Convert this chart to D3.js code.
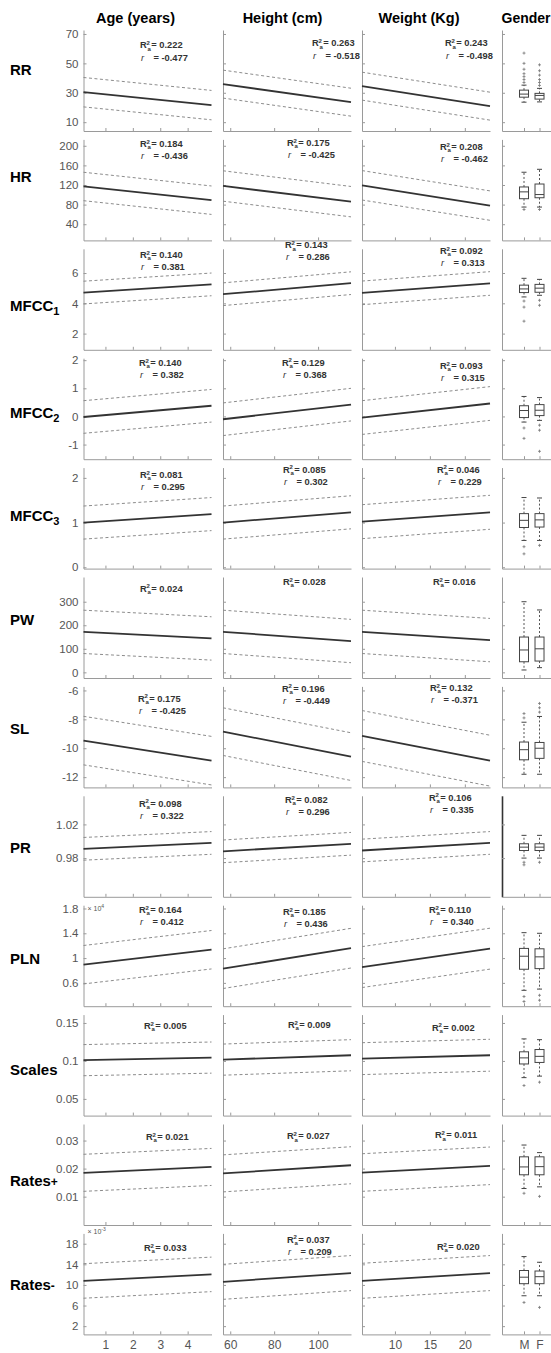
<!DOCTYPE html>
<html>
<head>
<meta charset="utf-8">
<script src="https://cdn.jsdelivr.net/npm/d3@7"></script>
<style>
  body { margin: 0; background: #fff; }
  svg text { font-family: "Liberation Sans", Arial, sans-serif; }
</style>
</head>
<body>
<div id="chart"></div>
<script>
// ---- data ----
const rowNames = ["RR", "HR", "MFCC", "MFCC", "MFCC", "PW", "SL", "PR", "PLN", "Scales", "Rates", "Rates"];
const rowSubs  = ["", "", "1", "2", "3", "", "", "", "", "", "+", "-"];
const colTitles = ["Age (years)", "Height (cm)", "Weight (Kg)", "Gender"];

const yDomains = [[4, 72.7], [7, 213], [0.93, 7.6], [-1.52, 2.07], [-0.03, 2.23], [-24, 405],
  [-12.71, -5.72], [0.934, 1.054], [0.224, 1.853], [0.028, 0.161], [-0.0001, 0.0359], [0.4, 20]];
const yTicks = [[10, 30, 50, 70], [40, 80, 120, 160, 200], [2, 4, 6], [-1, 0, 1, 2], [0, 1, 2],
  [0, 100, 200, 300], [-12, -10, -8, -6], [0.98, 1.02], [0.6, 1, 1.4, 1.8], [0.05, 0.1, 0.15],
  [0.01, 0.02, 0.03], [2, 6, 10, 14, 18]];
const yExponent = ["", "", "", "", "", "", "", "", "4", "", "", "-3"];

const xDomains = [[0.2, 4.87], [56.7, 115], [5.29, 23.6]];
const xTicks = [[1, 2, 3, 4], [60, 80, 100], [10, 15, 20]];

// fitted line value at the left and right end of each panel
const ageFit = [[30.4, 21.6], [117, 89], [4.71, 5.25], [-0.02, 0.38], [1.0, 1.19], [172, 144],
  [-9.47, -10.86], [0.991, 0.998], [0.893, 1.135], [0.101, 0.1044], [0.0185, 0.0206], [10.77, 12.05]];
const heightFit = [[35.9, 23.6], [118, 86], [4.6, 5.33], [-0.1, 0.42], [1.0, 1.23], [172, 133],
  [-8.85, -10.58], [0.988, 0.997], [0.829, 1.16], [0.1017, 0.1075], [0.0183, 0.0212], [10.6, 12.3]];
const weightFit = [[34.5, 20.9], [119.4, 78], [4.69, 5.31], [-0.04, 0.46], [1.02, 1.23], [172, 137],
  [-9.15, -10.86], [0.989, 0.998], [0.855, 1.152], [0.103, 0.1075], [0.0186, 0.021], [10.8, 12.3]];
// half width of the prediction band (dashed lines)
const ageBand = [10, 29, 0.75, 0.58, 0.37, 92, 1.68, 0.0135, 0.31, 0.0205, 0.0066, 3.35];
const heightBand = [9.5, 31, 0.75, 0.58, 0.37, 92, 1.65, 0.0135, 0.32, 0.0205, 0.0066, 3.4];
const weightBand = [9.5, 30, 0.78, 0.6, 0.38, 92, 1.76, 0.0135, 0.33, 0.021, 0.0067, 3.4];

const ageR2 = ["0.222", "0.184", "0.140", "0.140", "0.081", "0.024", "0.175", "0.098", "0.164", "0.005", "0.021", "0.033"];
const ageR = ["-0.477", "-0.436", "0.381", "0.382", "0.295", null, "-0.425", "0.322", "0.412", null, null, null];
const heightR2 = ["0.263", "0.175", "0.143", "0.129", "0.085", "0.028", "0.196", "0.082", "0.185", "0.009", "0.027", "0.037"];
const heightR = ["-0.518", "-0.425", "0.286", "0.368", "0.302", null, "-0.449", "0.296", "0.436", null, null, "0.209"];
const weightR2 = ["0.243", "0.208", "0.092", "0.093", "0.046", "0.016", "0.132", "0.106", "0.110", "0.002", "0.011", "0.020"];
const weightR = ["-0.498", "-0.462", "0.313", "0.315", "0.229", null, "-0.371", "0.335", "0.340", null, null, null];

// gender box plots: [lower whisker, q1, median, q3, upper whisker]
const genderCats = ["M", "F"];
const maleBox = [[23.6, 27, 29.1, 31.8, 35.2], [75, 92, 106, 116, 146], [4.42, 4.71, 4.95, 5.2, 5.65],
  [-0.2, -0.04, 0.21, 0.38, 0.71], [0.6, 0.89, 1.05, 1.2, 1.56], [10, 45, 95, 150, 300],
  [-11.8, -10.8, -10.1, -9.57, -8.2], [0.98, 0.989, 0.993, 0.997, 1.007], [0.48, 0.82, 1.03, 1.156, 1.41],
  [0.078, 0.096, 0.104, 0.112, 0.129], [0.0129, 0.0178, 0.0206, 0.0242, 0.0284], [7.9, 10.24, 11.5, 12.8, 15.5]];
const femaleBox = [[23.8, 25.7, 28.2, 29.6, 33], [75, 94, 100.5, 122, 152], [4.53, 4.73, 5.0, 5.25, 5.58],
  [-0.14, 0.03, 0.22, 0.42, 0.67], [0.6, 0.9, 1.06, 1.2, 1.55], [20, 48, 100, 150, 265],
  [-11.8, -10.7, -10.0, -9.6, -7.8], [0.98, 0.989, 0.993, 0.997, 1.007], [0.5, 0.83, 1.02, 1.15, 1.4],
  [0.08, 0.098, 0.106, 0.115, 0.128], [0.0135, 0.0178, 0.0207, 0.0242, 0.0257], [7.9, 10.24, 11.6, 12.7, 14.4]];
const maleOut = [[37, 39, 41, 43, 46, 50, 57], [70], [4.15, 3.75, 2.82], [-0.41, -0.78], [0.46, 0.3], [],
  [-7.9, -7.6], [0.975, 0.972], [0.38, 0.3], [0.0676], [0.0112], [6.6]];
const femaleOut = [[35, 37, 39, 42, 45, 49], [70], [4.2, 3.87], [-0.31, -0.49, -1.24], [0.49], [],
  [-7.5, -7.2, -6.9], [0.975], [0.4, 0.32], [0.072], [0.0101], [5.64]];

// ---- layout ----
const W = 551, H = 1353;
const colLeft = [83.5, 223, 362, 502];
const panelW = 128, genderW = 52, panelH = 101;
const rowTop = i => 30 + i * 109.4;
const rowLabelDy = [40, 37, 57, 54, 48, 43, 42, 52, 53, 55, 57, 51];
const headerX = [135.5, 282.5, 419, 501.5];
// [dx, dy] of the R2 note inside each panel (age, height, weight)
const notePos = [
  [[56.5, 15], [89, 13], [83, 13]], [[56.5, 4.6], [64, 3.6], [78, 7.6]],
  [[56.5, 6.2], [62, -3.8], [78, 1.9]], [[55.5, 4.5], [59, 4.1], [78, 7.8]],
  [[56.5, 7.4], [60, 1.7], [75, 1.7]], [[56.5, 11.3], [60, 4.7], [71, 4.7]],
  [[54.5, 11.9], [59, 1.9], [68, 1.3]], [[55.5, 7.5], [62, 4.2], [67, 1.5]],
  [[55.5, 4.8], [60, 6.5], [67, 4.8]], [[60.5, 11.1], [65, 10.4], [70, 12.7]],
  [[62.5, 12.7], [64, 12], [73, 11]], [[60.5, 14.3], [64, 5.9], [75, 13.3]]];
const axisColor = "#9a9a9a";

const fits = [ageFit, heightFit, weightFit];
const bands = [ageBand, heightBand, weightBand];
const r2s = [ageR2, heightR2, weightR2];
const rs = [ageR, heightR, weightR];

const svg = d3.select("#chart").append("svg")
  .attr("width", W).attr("height", H);

// column headers
colTitles.forEach((t, c) => {
  svg.append("text")
    .attr("x", headerX[c]).attr("y", 22.5)
    .attr("text-anchor", c === 3 ? "start" : "middle")
    .style("font-size", c === 3 ? "14px" : "14.5px").style("font-weight", "bold")
    .text(t);
});

function styleAxis(g) {
  g.selectAll("path.domain").attr("stroke", axisColor).attr("stroke-width", 1);
  g.selectAll(".tick line").attr("stroke", axisColor);
  g.selectAll(".tick text").attr("fill", "#555").style("font-family", "Liberation Sans, Arial, sans-serif");
}

const last = rowNames.length - 1;

rowNames.forEach((name, i) => {
  const top = rowTop(i);
  const y = d3.scaleLinear().domain(yDomains[i]).range([panelH, 0]);

  // row label
  const lab = svg.append("text")
    .attr("x", 10).attr("y", top + rowLabelDy[i] + 5.4)
    .style("font-size", "15px").style("font-weight", "bold")
    .text(name);
  if (rowSubs[i]) {
    const isSign = rowSubs[i] === "+" || rowSubs[i] === "-";
    lab.append("tspan")
      .attr("dy", isSign ? 0 : 4)
      .style("font-size", isSign ? "12px" : "11px")
      .text(rowSubs[i]);
  }

  // regression panels
  for (let c = 0; c < 3; c++) {
    const g = svg.append("g").attr("transform", `translate(${colLeft[c]},${top})`);
    const x = d3.scaleLinear().domain(xDomains[c]).range([0, panelW]);

    const ya = g.append("g")
      .call(d3.axisLeft(y).tickValues(yTicks[i]).tickSize(-3).tickSizeOuter(0).tickPadding(5)
        .tickFormat(c === 0 ? (d => String(d)) : () => ""));
    styleAxis(ya);
    ya.selectAll(".tick text").style("font-size", "11.5px");

    const xa = g.append("g").attr("transform", `translate(0,${panelH})`)
      .call(d3.axisBottom(x).tickValues(xTicks[c]).tickSize(-3).tickSizeOuter(0).tickPadding(6)
        .tickFormat(i === last ? (d => String(d)) : () => ""));
    styleAxis(xa);
    xa.selectAll(".tick text").style("font-size", "12px");

    const f = fits[c][i], b = bands[c][i];
    const ends = xDomains[c];
    const line = d3.line().x(d => x(d[0])).y(d => y(d[1]));

    [b, -b].forEach(off => {
      g.append("path")
        .datum([[ends[0], f[0] + off], [ends[1], f[1] + off]])
        .attr("d", line)
        .attr("fill", "none").attr("stroke", "#8c8c8c")
        .attr("stroke-width", 1).attr("stroke-dasharray", "3,2.5");
    });
    g.append("path")
      .datum([[ends[0], f[0]], [ends[1], f[1]]])
      .attr("d", line)
      .attr("fill", "none").attr("stroke", "#333").attr("stroke-width", 1.8);

    // R2 / r note
    const [dx, dy] = notePos[i][c];
    const t1 = g.append("text")
      .attr("x", dx).attr("y", dy + 3.3)
      .attr("fill", "#333").style("font-size", "9.3px").style("font-weight", "bold");
    t1.append("tspan").text("R");
    t1.append("tspan").attr("x", dx + 6.6).attr("dy", -3.3).style("font-size", "6px").text("2");
    t1.append("tspan").attr("x", dx + 7.6).attr("dy", 5.5).style("font-size", "6px").text("a");
    t1.append("tspan").attr("x", dx + 11.3).attr("dy", -2.2).text("= " + r2s[c][i]);
    if (rs[c][i] !== null) {
      const t2 = g.append("text")
        .attr("x", dx + 1).attr("y", dy + 15.5)
        .attr("fill", "#333").style("font-size", "9.3px").style("font-weight", "bold");
      t2.append("tspan").style("font-style", "italic").style("font-weight", "normal").text("r");
      t2.append("tspan").attr("x", dx + 13.5).text("= " + rs[c][i]);
    }

    if (c === 0 && yExponent[i]) {
      const e = g.append("text")
        .attr("x", 4).attr("y", i === last ? 1 : 6)
        .attr("fill", "#555").style("font-size", "7px")
        .text("\u00d7 10");
      e.append("tspan").attr("dy", -3).style("font-size", "5px").text(yExponent[i]);
    }
  }

  // gender box plots
  const g = svg.append("g").attr("transform", `translate(${colLeft[3]},${top})`);
  const xg = d3.scaleLinear().domain([-0.42, 2.935]).range([0, genderW]);
  const ga = g.append("g")
    .call(d3.axisLeft(y).tickValues(yTicks[i]).tickSize(-3).tickSizeOuter(0).tickFormat(() => ""));
  styleAxis(ga);
  if (i === 7) ga.select("path.domain").attr("stroke", "#333").attr("stroke-width", 1.6);
  const gb = g.append("g").attr("transform", `translate(0,${panelH})`)
    .call(d3.axisBottom(xg).tickValues([1, 2]).tickSize(-3).tickSizeOuter(0).tickPadding(6)
      .tickFormat(i === last ? ((d, k) => genderCats[k]) : () => ""));
  styleAxis(gb);
  gb.selectAll(".tick text").style("font-size", "12px");

  [maleBox[i], femaleBox[i]].forEach((bx, k) => {
    const cx = xg(k + 1);
    const hw = 4.5;
    const [lo, q1, med, q3, hi] = bx;
    // whiskers
    [[q3, hi], [q1, lo]].forEach(([a, bnd]) => {
      g.append("line").attr("x1", cx).attr("x2", cx).attr("y1", y(a)).attr("y2", y(bnd))
        .attr("stroke", "#555").attr("stroke-width", 1).attr("stroke-dasharray", "2,2");
      g.append("line").attr("x1", cx - 2.5).attr("x2", cx + 2.5).attr("y1", y(bnd)).attr("y2", y(bnd))
        .attr("stroke", "#444").attr("stroke-width", 1);
    });
    g.append("rect")
      .attr("x", cx - hw).attr("width", hw * 2)
      .attr("y", y(q3)).attr("height", Math.max(1, y(q1) - y(q3)))
      .attr("fill", "#fff").attr("stroke", "#444").attr("stroke-width", 1);
    g.append("line").attr("x1", cx - hw).attr("x2", cx + hw).attr("y1", y(med)).attr("y2", y(med))
      .attr("stroke", "#444").attr("stroke-width", 1);
    const outs = k === 0 ? maleOut[i] : femaleOut[i];
    outs.forEach(v => {
      g.append("path")
        .attr("d", `M${cx - 1.5},${y(v)}h3M${cx},${y(v) - 1.5}v3`)
        .attr("stroke", "#777").attr("stroke-width", 0.8);
    });
  });
});
</script>
</body>
</html>
